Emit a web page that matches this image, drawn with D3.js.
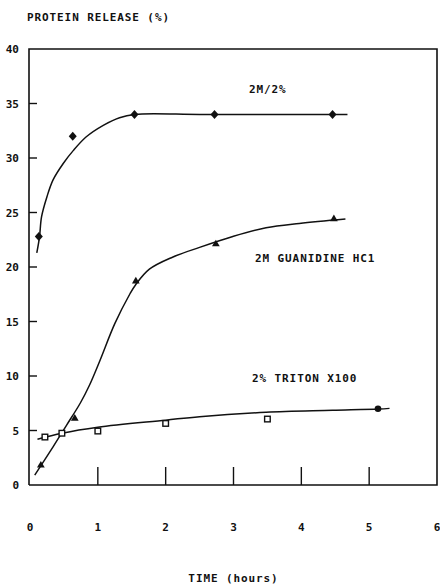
<!DOCTYPE html>
<html>
<head>
<meta charset="utf-8">
<script src="https://cdn.jsdelivr.net/npm/d3@7"></script>
<style>
  body { margin: 0; background: #fff; }
  text { font-family: "DejaVu Sans Mono", monospace; font-weight: bold; fill: #111; }
</style>
</head>
<body>
<div id="chart"></div>
<script>
// x ticks / y ticks
const xTicks = [0, 1, 2, 3, 4, 5, 6]
const yTicks = [0, 5, 10, 15, 20, 25, 30, 35, 40]

// measured points (time h, release %)
const mixTime = [0.13, 0.63, 1.54, 2.72, 4.46]
const mixVal = [22.8, 32.0, 34.0, 34.0, 34.0]
const guanTime = [0.16, 0.66, 1.56, 2.74, 4.48]
const guanVal = [1.8, 6.1, 18.7, 22.1, 24.4]
const tritonTime = [0.22, 0.47, 1.0, 2.0, 3.5]
const tritonVal = [4.4, 4.75, 4.95, 5.65, 6.05]
const tritonEnd = [5.13, 7.0]

// hand-drawn fit curves
const mixCurveT = [0.1, 0.14, 0.17, 0.25, 0.34, 0.49, 0.64, 0.83, 1.08, 1.32, 1.54, 2.5, 3.5, 4.68]
const mixCurveV = [21.3, 22.75, 24.6, 26.45, 28.0, 29.5, 30.7, 31.95, 33.0, 33.7, 34.0, 34.0, 34.0, 34.0]
const guanCurveT = [0.07, 0.34, 0.54, 0.74, 0.88, 1.03, 1.25, 1.47, 1.56, 1.76, 2.1, 2.5, 2.99, 3.48, 3.97, 4.65]
const guanCurveV = [0.9, 3.5, 5.5, 7.5, 9.2, 11.4, 14.8, 17.5, 18.4, 19.8, 20.9, 21.8, 22.8, 23.6, 24.0, 24.4]
const tritonCurveT = [0.11, 0.47, 1.0, 2.0, 2.5, 3.48, 4.46, 5.14, 5.3]
const tritonCurveV = [4.2, 4.75, 5.3, 5.95, 6.27, 6.67, 6.85, 6.97, 7.03]

const labels = ["2M/2%", "2M GUANIDINE HC1", "2% TRITON X100"]

let width = 440, height = 585;

let svg = d3.select("#chart").append("svg")
    .attr("width", width)
    .attr("height", height);

let x = d3.scaleLinear().domain([0, 6]).range([30, 437]);
let y = d3.scaleLinear().domain([0, 40]).range([485, 49]);

// frame: left, top, right, bottom
svg.append("path")
    .attr("d", `M${x(0)-1},${y(0)} V${y(40)} H${x(6)} V${y(0)} H${x(0)-1}`)
    .attr("fill", "none")
    .attr("stroke", "#111")
    .attr("stroke-width", 1.6);

// y ticks
svg.selectAll(".ytick")
    .data(yTicks.filter(d => d > 0 && d < 40))
    .join("line")
    .attr("x1", x(0) - 1).attr("x2", x(0) + 7)
    .attr("y1", d => y(d)).attr("y2", d => y(d))
    .attr("stroke", "#111").attr("stroke-width", 1.4);

svg.selectAll(".ylab")
    .data(yTicks)
    .join("text")
    .attr("x", 19)
    .attr("y", d => y(d) + 4)
    .attr("text-anchor", "end")
    .attr("font-size", 11)
    .text(d => d);

// x ticks (tall, going up from the axis)
svg.selectAll(".xtick")
    .data(xTicks.filter(d => d > 0 && d < 6))
    .join("line")
    .attr("x1", d => x(d)).attr("x2", d => x(d))
    .attr("y1", y(0)).attr("y2", y(0) - 18)
    .attr("stroke", "#111").attr("stroke-width", 1.4);

svg.selectAll(".xlab")
    .data(xTicks)
    .join("text")
    .attr("x", d => x(d))
    .attr("y", 531)
    .attr("text-anchor", "middle")
    .attr("font-size", 11)
    .text(d => d);

// axis titles
svg.append("text").attr("x", 27).attr("y", 21)
    .attr("font-size", 11).attr("letter-spacing", 0.9)
    .text("PROTEIN RELEASE (%)");
svg.append("text").attr("x", x(3)).attr("y", 582)
    .attr("text-anchor", "middle")
    .attr("font-size", 11).attr("letter-spacing", 0.9)
    .text("TIME (hours)");

// curves
let line = d3.line().x(d => x(d[0])).y(d => y(d[1])).curve(d3.curveCatmullRom.alpha(0.5));
function drawCurve(ts, vs) {
    svg.append("path")
        .datum(ts.map((t, i) => [t, vs[i]]))
        .attr("d", line)
        .attr("fill", "none")
        .attr("stroke", "#111")
        .attr("stroke-width", 1.5);
}
drawCurve(mixCurveT, mixCurveV)
drawCurve(guanCurveT, guanCurveV)
drawCurve(tritonCurveT, tritonCurveV)

// markers
svg.selectAll(".mix")
    .data(mixTime.map((t, i) => [t, mixVal[i]]))
    .join("path")
    .attr("transform", d => `translate(${x(d[0])},${y(d[1])})`)
    .attr("d", "M0,-4.5 L4,0 L0,4.5 L-4,0 Z")
    .attr("fill", "#111");

svg.selectAll(".guan")
    .data(guanTime.map((t, i) => [t, guanVal[i]]))
    .join("path")
    .attr("transform", d => `translate(${x(d[0])},${y(d[1])})`)
    .attr("d", d3.symbol(d3.symbolTriangle, 26))
    .attr("fill", "#111");

svg.selectAll(".triton")
    .data(tritonTime.map((t, i) => [t, tritonVal[i]]))
    .join("rect")
    .attr("x", d => x(d[0]) - 2.8)
    .attr("y", d => y(d[1]) - 2.8)
    .attr("width", 5.6).attr("height", 5.6)
    .attr("fill", "#fff")
    .attr("stroke", "#111")
    .attr("stroke-width", 1.4);

svg.append("circle")
    .attr("cx", x(tritonEnd[0])).attr("cy", y(tritonEnd[1]))
    .attr("r", 3.3).attr("fill", "#111");

// series labels
svg.append("text").attr("x", 249).attr("y", 93)
    .attr("font-size", 11).attr("letter-spacing", 0.9).text(labels[0]);
svg.append("text").attr("x", 255).attr("y", 262)
    .attr("font-size", 11).attr("letter-spacing", 0.9).text(labels[1]);
svg.append("text").attr("x", 252).attr("y", 382)
    .attr("font-size", 11).attr("letter-spacing", 0.9).text(labels[2]);
</script>
</body>
</html>
